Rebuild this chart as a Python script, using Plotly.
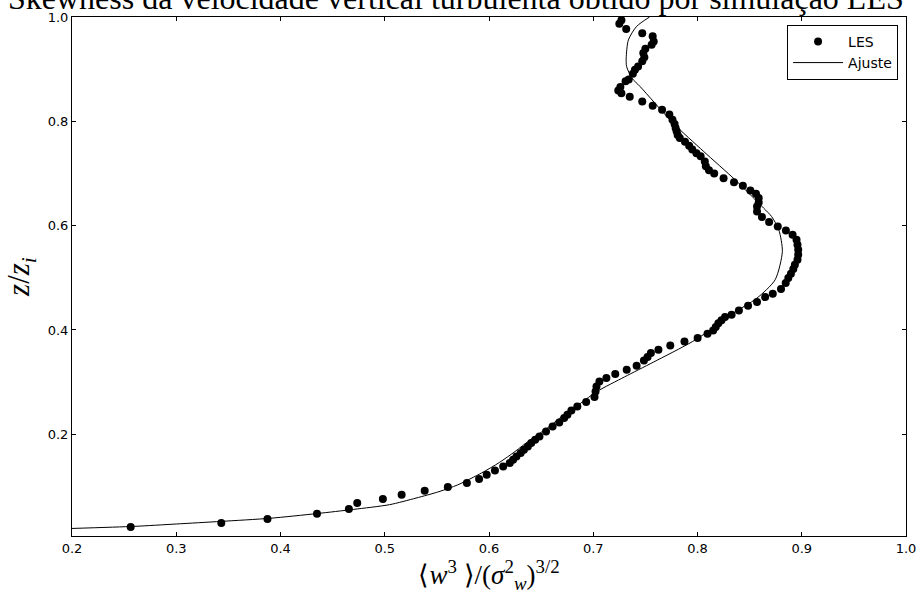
import plotly.graph_objects as go

# LES profile (skewness vs z/zi)
les_skew = [0.2563, 0.3432, 0.3875, 0.4350, 0.4656, 0.4736, 0.4982, 0.5162, 0.5383, 0.5605,
            0.5788, 0.5905, 0.5978, 0.6057, 0.6136, 0.6199, 0.6231, 0.6263, 0.6304, 0.6335,
            0.6373, 0.6405, 0.6443, 0.6484, 0.6547, 0.6610, 0.6674, 0.6721, 0.6752, 0.6790,
            0.6847, 0.6932, 0.7012, 0.7022, 0.7031, 0.7059, 0.7126, 0.7211, 0.7321, 0.7416,
            0.7486, 0.7521, 0.7553, 0.7625, 0.7739, 0.7875, 0.8001, 0.8096, 0.8150, 0.8175,
            0.8200, 0.8230, 0.8264, 0.8327, 0.8397, 0.8485, 0.8571, 0.8649, 0.8722, 0.8801,
            0.8846, 0.8871, 0.8896, 0.8919, 0.8934, 0.8959, 0.8966, 0.8966, 0.8959, 0.8950,
            0.8912, 0.8848, 0.8770, 0.8687, 0.8618, 0.8571, 0.8571, 0.8587, 0.8587, 0.8561,
            0.8507, 0.8435, 0.8350, 0.8250, 0.8160, 0.8110, 0.8080, 0.8070, 0.8030, 0.7990,
            0.7950, 0.7920, 0.7880, 0.7830, 0.7810, 0.7800, 0.7790, 0.7780, 0.7760, 0.7730,
            0.7660, 0.7570, 0.7470, 0.7350, 0.7270, 0.7240, 0.7260, 0.7310, 0.7340, 0.7380,
            0.7400, 0.7430, 0.7470, 0.7490, 0.7480, 0.7500, 0.7560, 0.7580, 0.7570, 0.7470,
            0.7316, 0.7250, 0.7270]
les_z = [0.0221, 0.0297, 0.0374, 0.0476, 0.0566, 0.0681, 0.0757, 0.0840, 0.0917, 0.0988,
         0.1064, 0.1141, 0.1223, 0.1306, 0.1383, 0.1448, 0.1511, 0.1574, 0.1639, 0.1703,
         0.1766, 0.1831, 0.1894, 0.1958, 0.2054, 0.2149, 0.2226, 0.2311, 0.2374, 0.2456,
         0.2533, 0.2617, 0.2713, 0.2821, 0.2917, 0.3013, 0.3078, 0.3154, 0.3237, 0.3313,
         0.3415, 0.3480, 0.3557, 0.3620, 0.3703, 0.3780, 0.3845, 0.3927, 0.3990, 0.4056,
         0.4130, 0.4185, 0.4250, 0.4291, 0.4374, 0.4464, 0.4535, 0.4631, 0.4694, 0.4784,
         0.4899, 0.4995, 0.5078, 0.5168, 0.5250, 0.5346, 0.5442, 0.5538, 0.5634, 0.5730,
         0.5826, 0.5908, 0.5985, 0.6069, 0.6165, 0.6272, 0.6368, 0.6445, 0.6529, 0.6612,
         0.6675, 0.6765, 0.6830, 0.6910, 0.7000, 0.7060, 0.7140, 0.7230, 0.7330, 0.7390,
         0.7460, 0.7530, 0.7610, 0.7680, 0.7740, 0.7810, 0.7870, 0.7950, 0.8030, 0.8130,
         0.8220, 0.8300, 0.8380, 0.8470, 0.8540, 0.8590, 0.8660, 0.8770, 0.8800, 0.8910,
         0.8990, 0.9050, 0.9150, 0.9230, 0.9310, 0.9390, 0.9470, 0.9530, 0.9630, 0.9690,
         0.9770, 0.9870, 0.9940]

# Fitted curve ("Ajuste")
fit_skew = [0.2000, 0.2600, 0.3000, 0.3430, 0.3900, 0.4350, 0.4700, 0.5045, 0.5300, 0.5520,
            0.5700, 0.5930, 0.6100, 0.6250, 0.6400, 0.6560, 0.6680, 0.6816, 0.7037, 0.7300,
            0.7574, 0.7954, 0.8240, 0.8333, 0.8570, 0.8745, 0.8814, 0.8780, 0.8710, 0.8634,
            0.8360, 0.8060, 0.7764, 0.7448, 0.7370, 0.7320, 0.7316, 0.7337, 0.7416, 0.7540]
fit_z = [0.0195, 0.0235, 0.0280, 0.0330, 0.0390, 0.0480, 0.0560, 0.0650, 0.0777, 0.0900,
         0.1030, 0.1260, 0.1460, 0.1670, 0.1900, 0.2120, 0.2311, 0.2502, 0.2821, 0.3100,
         0.3380, 0.3780, 0.4160, 0.4310, 0.4610, 0.4963, 0.5505, 0.5920, 0.6177, 0.6337,
         0.6880, 0.7420, 0.7970, 0.8670, 0.8830, 0.9050, 0.9210, 0.9560, 0.9820, 1.0000]

x_ticks = [0.2, 0.3, 0.4, 0.5, 0.6, 0.7, 0.8, 0.9, 1.0]
y_ticks = [0.2, 0.4, 0.6, 0.8, 1.0]

fig = go.Figure()
fig.add_trace(go.Scatter(x=les_skew, y=les_z, mode="markers", name="LES",
                         marker=dict(color="black", size=8)))
fig.add_trace(go.Scatter(x=fit_skew, y=fit_z, mode="lines", name="Ajuste",
                         line=dict(color="black", width=1, shape="spline", smoothing=0.7)))

axis_common = dict(showgrid=False, zeroline=False, showline=True, linecolor="black",
                   linewidth=1, mirror="ticks", ticks="inside", ticklen=4, tickcolor="black",
                   tickfont=dict(family="DejaVu Sans", size=13, color="black"),
                   tickformat=".1f", ticklabeloverflow="allow")

fig.update_layout(
    width=923, height=599,
    margin=dict(l=72, r=7, t=17, b=63),
    paper_bgcolor="white", plot_bgcolor="white",
    xaxis=dict(range=[0.2, 1.0], tickvals=x_ticks, **axis_common,
               title=dict(text="⟨<i>w</i><sup>3</sup> ⟩/(<i>σ</i><sup>2</sup><sub><i>w</i></sub>)<sup>3/2</sup>",
                          font=dict(family="Liberation Serif", size=27, color="black"),
                          standoff=6)),
    yaxis=dict(range=[0.005, 1.0], tickvals=y_ticks, **axis_common,
               title=dict(text="<i>z</i>/<i>z<sub>i</sub></i>",
                          font=dict(family="Liberation Serif", size=31, color="black"),
                          standoff=8)),
    legend=dict(x=0.9905, y=0.985, xanchor="right", yanchor="top",
                bordercolor="black", borderwidth=1, bgcolor="white",
                font=dict(family="DejaVu Sans", size=14, color="black"),
                itemwidth=50, tracegroupgap=2),
    showlegend=True,
)

fig.add_annotation(text="Skewness da velocidade vertical turbulenta obtido por simulação LES",
                   xref="paper", yref="paper", x=-0.079, y=1.0, xanchor="left", yanchor="bottom",
                   yshift=-1, showarrow=False,
                   font=dict(family="Liberation Serif", size=32, color="black"))

fig.write_html("out.html", config={"displayModeBar": False},
               post_script="document.body.style.margin='0';")
